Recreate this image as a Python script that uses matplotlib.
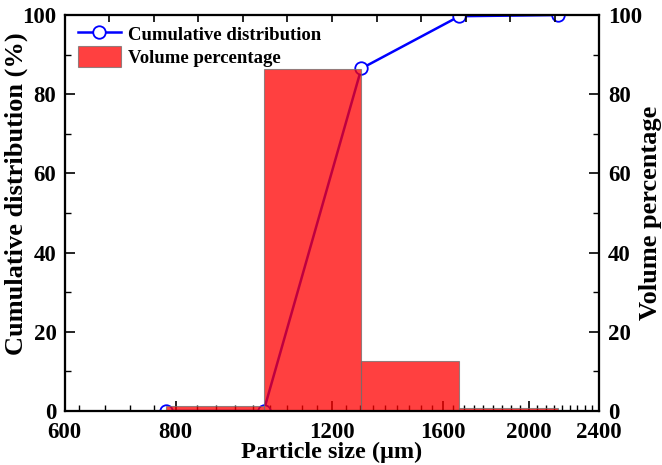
import matplotlib
matplotlib.use("Agg")
import matplotlib.pyplot as plt
from matplotlib.ticker import FixedLocator, NullFormatter

plt.rcParams['font.family'] = ['Liberation Serif', 'DejaVu Serif']
plt.rcParams['font.weight'] = 'bold'

# sieve sizes (um), cumulative distribution (%), volume percentage per class (%)
sizes = [780, 1005, 1295, 1670, 2155]
cumulative = [0, 0, 86.5, 99.7, 100]
bar_left = [780, 1005, 1295, 1670]
bar_right = [1005, 1295, 1670, 2155]
volume = [1.2, 86.4, 12.6, 0.7]

x_ticks = [600, 800, 1200, 1600, 2000, 2400]
x_labels = ["600", "800", "1200", "1600", "2000", "2400"]

fig = plt.figure(figsize=(6.62, 4.65), dpi=100)
ax = fig.add_axes([0.0979, 0.1161, 0.8072, 0.8516])

line, = ax.plot(sizes, cumulative, color='blue', lw=1.8, marker='o', ms=9,
                mfc='white', mec='blue', mew=1.3, clip_on=True, zorder=3)

ax.set_xscale('log')
ax.set_xlim(600, 2400)
ax.set_ylim(0, 100)
ax.xaxis.set_major_locator(FixedLocator(x_ticks))
ax.set_xticklabels(x_labels)
minor = [800 + k * 400 / 9 for k in range(-4, 37)]
ax.xaxis.set_minor_locator(FixedLocator([m for m in minor if 600 < m < 2400]))
ax.xaxis.set_minor_formatter(NullFormatter())
ax.set_yticks(range(0, 101, 20))
ax.set_yticks(range(10, 100, 20), minor=True)

ax2 = ax.twinx()
widths = [r - l for l, r in zip(bar_left, bar_right)]
bars = ax2.bar(bar_left, volume, width=widths, align='edge', color='red',
               alpha=0.75, edgecolor='#707070', linewidth=0.8)
ax2.set_ylim(0, 100)
ax2.set_yticks(range(0, 101, 20))
ax2.set_yticks(range(10, 100, 20), minor=True)

# top axis: plain evenly spaced ticks
ax3 = ax.twiny()
ax3.set_xlim(0, 12)
ax3.set_xticks(range(13))
ax3.set_xticklabels([])
ax3.tick_params(axis='x', direction='in', length=5, width=1.2, top=True, bottom=False)

for a in (ax, ax2, ax3):
    for s in a.spines.values():
        s.set_linewidth(1.5)

ax.tick_params(axis='x', which='major', direction='in', length=7, width=1.2,
               labelsize=16.5, top=False, pad=8)
ax.tick_params(axis='y', which='major', direction='in', length=7, width=1.2,
               labelsize=16.5, pad=6)
ax.tick_params(axis='both', which='minor', direction='in', length=4, width=1.0, top=False)
ax2.tick_params(axis='y', which='major', direction='in', length=7, width=1.2,
                labelsize=16.5, pad=6.5)
ax2.tick_params(axis='y', which='minor', direction='in', length=4, width=1.0)

ax.set_xlabel("Particle size (μm)", fontsize=17.5, fontweight='bold')
ax.xaxis.set_label_coords(0.5, -0.077)
ax.set_ylabel("Cumulative distribution (%)", fontsize=19, fontweight='bold')
ax.yaxis.set_label_coords(-0.069, 0.55)
ax2.set_ylabel("Volume percentage", fontsize=19, fontweight='bold')
ax2.yaxis.set_label_coords(1.074, 0.5)

leg = ax3.legend([line, bars], ["Cumulative distribution", "Volume percentage"],
                 loc='upper left', bbox_to_anchor=(0.008, 1.0), frameon=False,
                 prop={'family': 'Liberation Serif', 'weight': 'bold', 'size': 13.5},
                 handlelength=2.3, handleheight=1.3, labelspacing=0.12,
                 handletextpad=0.4, borderaxespad=0.05)

fig.savefig("out.png", dpi=100)
